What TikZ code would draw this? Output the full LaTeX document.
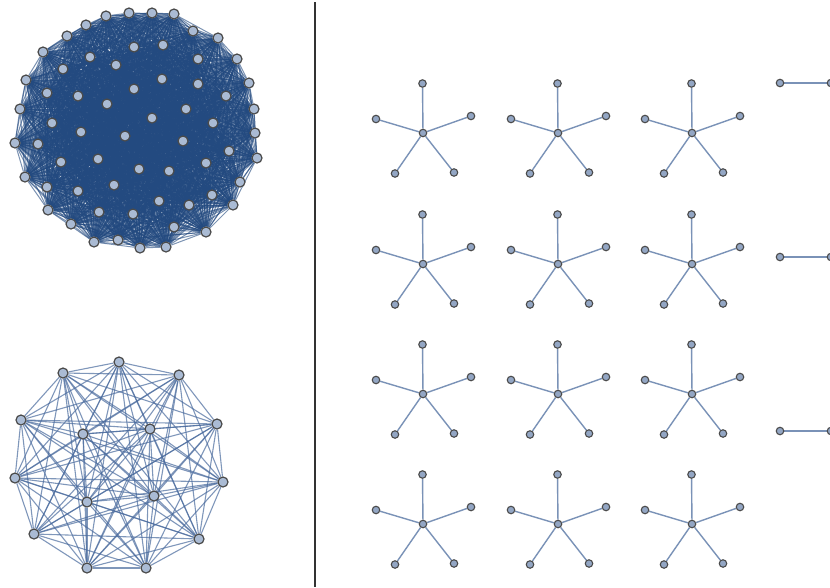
\documentclass[tikz,border=0pt]{standalone}
\pgfdeclarelayer{edges}
\pgfdeclarelayer{bgfill}
\pgfsetlayers{bgfill,edges,main}
\definecolor{densecol}{HTML}{234A80}
\definecolor{kcol}{HTML}{4A6B9E}
\definecolor{starcol}{HTML}{7A92B7}
\definecolor{nodefill}{HTML}{AABBD4}
\definecolor{starfill}{HTML}{93A6C4}
\definecolor{nodeline}{HTML}{4A4A4A}
\tikzset{
  bignode/.style={circle,fill=nodefill,draw=nodeline,line width=1.2pt,minimum size=10pt,inner sep=0pt},
  starnode/.style={circle,fill=starfill,draw=nodeline,line width=1.1pt,minimum size=7.5pt,inner sep=0pt},
  denseedge/.style={draw=densecol,line width=1pt,opacity=0.6},
  kedge/.style={draw=kcol,line width=1.1pt,opacity=0.7},
  staredge/.style={draw=starcol,line width=1.4pt},
  divider/.style={draw=black!80,line width=1.2pt}
}
\begin{document}
\begin{tikzpicture}[x=1pt,y=-1pt]
\begin{pgfonlayer}{bgfill}
\fill[white] (0,0) rectangle (830,587);
\end{pgfonlayer}
\useasboundingbox (0,0) rectangle (830,587);
% dense complete graph
\foreach \x/\y [count=\i] in {106/16,129/13,152/13,174/14,86/25,193/31,67/36,218/38,43/52,237/59,134/47,163/45,90/57,198/59,63/69,116/65,26/80,249/83,162/79,198/84,134/89,47/93,78/96,226/96,107/104,20/109,254/109,186/109,152/118,52/123,213/123,81/132,125/136,255/133,15/143,38/144,183/141,229/151,257/158,61/162,98/159,206/163,139/169,169/171,25/177,47/187,114/185,240/182,78/191,212/195,159/201,189/205,233/205,48/210,99/212,133/214,71/224,174/227,206/232,94/242,118/240,140/248,166/247}
  \node[bignode] (b\i) at (\x,\y) {};
\begin{pgfonlayer}{edges}
\foreach \i in {1,...,62}{
  \pgfmathtruncatemacro\k{\i+1}
  \foreach \j in {\k,...,63}{\draw[denseedge] (b\i) -- (b\j);}
}
\end{pgfonlayer}
% K15
\foreach \x/\y [count=\i] in {119/362,63/373,179/375,21/420,217/424,83/434,150/429,15/478,223/482,87/502,154/496,34/534,199/539,87/568,146/568}
  \node[bignode] (k\i) at (\x,\y) {};
\begin{pgfonlayer}{edges}
\foreach \i in {1,...,14}{
  \pgfmathtruncatemacro\k{\i+1}
  \foreach \j in {\k,...,15}{\draw[kedge] (k\i) -- (k\j);}
}
\end{pgfonlayer}
% divider
\coordinate (dtop) at (315,2);
\coordinate (dbot) at (315,587);
\draw[divider] (dtop) -- (dbot);
% stars
\foreach \cx [count=\c] in {423,558,692}{
  \foreach \cy [count=\r] in {133,264,394,524}{
    \node[starnode] (s\c\r c) at (\cx,\cy) {};
    \node[starnode] (s\c\r a) at (\cx-0.5,\cy-49.5) {};
    \node[starnode] (s\c\r b) at (\cx-47,\cy-14) {};
    \node[starnode] (s\c\r d) at (\cx+48,\cy-17) {};
    \node[starnode] (s\c\r e) at (\cx-28,\cy+40.5) {};
    \node[starnode] (s\c\r f) at (\cx+31,\cy+39.5) {};
    \begin{pgfonlayer}{edges}
    \foreach \t in {a,b,d,e,f}{\draw[staredge] (s\c\r c) -- (s\c\r\t);}
    \end{pgfonlayer}
  }
}
% partial edges at right
\foreach \y [count=\r] in {83,257,431}{
  \node[starnode] (p\r l) at (780,\y) {};
  \node[starnode] (p\r r) at (831,\y) {};
  \begin{pgfonlayer}{edges}
  \draw[staredge] (p\r l) -- (p\r r);
  \end{pgfonlayer}
}
\end{tikzpicture}
\end{document}
